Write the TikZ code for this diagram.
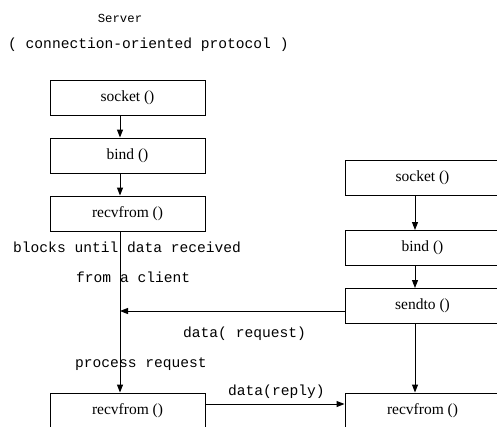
\documentclass[tikz,border=0pt]{standalone}
\usepackage{fontspec}
\setmainfont{Liberation Serif}
\setmonofont{Liberation Mono}
\usetikzlibrary{arrows.meta}
\tikzset{
  fnbox/.style={draw, line width=1pt, minimum width=155pt, minimum height=35pt, inner sep=0pt,
    font=\fontsize{15.5}{17}\selectfont},
  lbl/.style={anchor=west, inner sep=0pt, font=\ttfamily\fontsize{14.6}{16}\selectfont},
  conn/.style={line width=1pt, -{Triangle[length=8pt,width=6pt]}},
  plain/.style={line width=1pt}
}
\begin{document}
\begin{tikzpicture}[x=1pt,y=-1pt]
\useasboundingbox (0,0) rectangle (497,426);
\clip (0,0) rectangle (497,426);
% titles
\node[anchor=center, inner sep=0pt, font=\ttfamily\fontsize{12.3}{14}\selectfont] (title) at (120,18) {Server};
\node[lbl] (sub) at (8,45) {( connection-oriented protocol )};
% server column
\node[fnbox] (ssock) at (127.5,97.5) {socket ()};
\node[fnbox] (sbind) at (127.5,155.5) {bind ()};
\node[fnbox] (srecv) at (127.5,213.5) {recvfrom ()};
\node[fnbox] (srecv2) at (127.5,410.5) {recvfrom ()};
% client column
\node[fnbox] (csock) at (422.5,178) {socket ()};
\node[fnbox] (cbind) at (422.5,248) {bind ()};
\node[fnbox] (csend) at (422.5,306) {sendto ()};
\node[fnbox] (crecv) at (422.5,410.5) {recvfrom ()};
% server arrows
\draw[conn] (ssock.south -| 120,0) -- (sbind.north -| 120,0);
\draw[conn] (sbind.south -| 120,0) -- (srecv.north -| 120,0);
\draw[conn] (srecv.south -| 120,0) -- (srecv2.north -| 120,0);
% client arrows
\draw[conn] (csock.south -| 415,0) -- (cbind.north -| 415,0);
\draw[conn] (cbind.south -| 415,0) -- (csend.north -| 415,0);
\draw[conn] (csend.south -| 415,0) -- (crecv.north -| 415,0);
% messages
\coordinate (reqend) at (120,311);
\draw[conn] (csend.west |- reqend) -- (reqend);
\coordinate (repy) at (0,404);
\draw[conn] (srecv2.east |- repy) -- (crecv.west |- repy);
% labels
\node[lbl] (l1) at (13,247) {blocks until data received};
\node[lbl] (l2) at (76,277) {from a client};
\node[lbl] (l3) at (183,334) {data( request)};
\node[lbl] (l4) at (75,364) {process request};
\node[lbl] (l5) at (228,392) {data(reply)};
\end{tikzpicture}
\end{document}
